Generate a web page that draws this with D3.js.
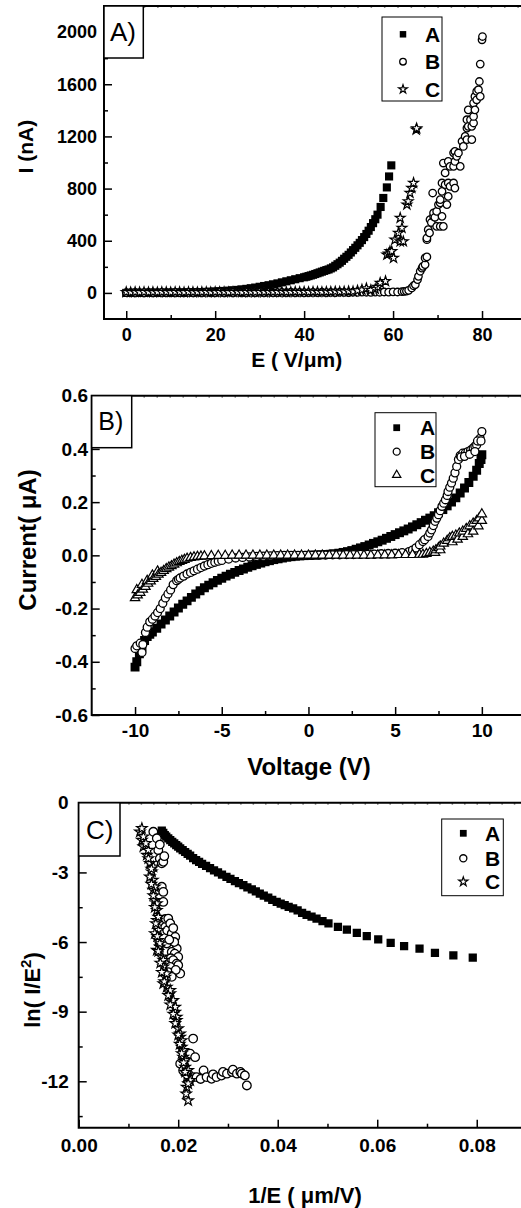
<!DOCTYPE html>
<html>
<head>
<meta charset="utf-8">
<script src="https://cdn.jsdelivr.net/npm/d3@7"></script>
<style>
body { margin: 0; background: #fff; }
svg { display: block; }
text { font-family: "Liberation Sans", Arial, sans-serif; }
</style>
</head>
<body>
<div id="chart"></div>
<script>
// Panel A: field emission current I (nA) vs E (V/um)
const emitA = [[0,0],[1,0],[2,0],[3,0],[4,0],[5,1],[6,1],[7,1],[8,1],[9,2],[10,2],[11,2],[12,3],[13,3],[14,4],[15,5],[16,5],[17,6],[18,8],[19,9],[20,11],[21,13],[22,15],[23,17],[24,20],[25,23],[26,27],[27,31],[28,36],[29,41],[30,47],[31,53],[32,59],[33,66],[34,73],[35,81],[36,89],[37,97],[38,105],[39,113],[40,120],[40.5,124],[41,129],[41.5,134],[42,139],[42.5,145],[43,151],[43.5,157],[44,163],[44.5,169],[45,175],[45.5,180],[46,188],[46.5,196],[47,208],[47.5,220],[48,232],[48.5,246],[49,262],[49.5,277],[50,292],[50.5,310],[51,328],[51.5,346],[52,365],[52.5,384],[53,405],[53.5,428],[54,452],[54.5,477],[55,505],[55.5,535],[56,565],[56.5,600],[57.2,659],[57.8,728],[58.6,809],[59.1,893],[59.6,978]];
const emitB = [[0,3],[1,2],[2,4],[3,3],[4,2],[5,4],[6,3],[7,2],[8,4],[9,3],[10,2],[11,4],[12,3],[13,2],[14,4],[15,3],[16,5],[17,3],[18,4],[19,2],[20,3],[21,4],[22,3],[23,5],[24,3],[25,4],[26,2],[27,3],[28,4],[29,3],[30,5],[31,3],[32,4],[33,2],[34,3],[35,4],[36,3],[37,5],[38,3],[39,4],[40,2],[41,3],[42,4],[43,3],[44,5],[45,3],[46,4],[47,3],[48,5],[49,4],[50,3],[51,5],[52,4],[53,6],[54,5],[55,4],[56,6],[57,5],[58,7],[59,6],[60,8],[61,7],[62,10],[62.5,12],[63,14],[63.5,20],[64.2,38],[64.6,55],[65,64],[65.5,102],[65.7,127],[66.1,166],[66.5,190],[66.7,204],[67.2,217],[67.2,268],[67.6,276],[67.6,408],[67.6,421],[67.9,485],[68.2,460],[68.3,562],[68.6,540],[68.9,766],[69.1,587],[69.1,613],[69.4,580],[69.8,510],[69.8,625],[70.2,677],[70.6,510],[70.6,690],[70.6,715],[71,587],[71,779],[71,843],[71.3,510],[71.3,996],[71.7,830],[71.7,920],[72.1,677],[72.4,740],[72.4,843],[72.4,1008],[72.8,817],[72.8,970],[73.6,843],[73.6,970],[73.6,1074],[73.9,804],[73.9,1008],[73.9,1085],[74.3,1047],[74.7,1073],[75.1,970],[75.5,1162],[75.8,1123],[76.2,1200],[76.6,1175],[76.6,1264],[76.6,1328],[76.9,1277],[76.9,1404],[77.4,1328],[77.7,1175],[77.7,1277],[78.1,1303],[78.1,1353],[78.1,1456],[78.4,1404],[78.4,1507],[78.8,1481],[78.8,1545],[79.2,1558],[79.4,1621],[79.6,1507],[79.6,1755],[80,1941],[80.1,1966]];
const emitC = [[0,6],[1,5],[2,6],[3,5],[4,7],[5,5],[6,6],[7,5],[8,7],[9,6],[10,5],[11,7],[12,6],[13,5],[14,7],[15,6],[16,5],[17,6],[18,7],[19,5],[20,6],[21,7],[22,6],[23,5],[24,7],[25,6],[26,5],[27,7],[28,6],[29,5],[30,7],[31,6],[32,8],[33,6],[34,7],[35,8],[36,6],[37,7],[38,8],[39,7],[40,8],[41,7],[42,9],[43,8],[44,7],[45,9],[46,8],[47,10],[48,9],[49,10],[50,12],[51,11],[52,18],[53,25],[54,35],[55,22],[56,30],[56.5,45],[57.1,77],[58.3,90],[58.6,293],[59.0,300],[59.3,319],[59.7,319],[60.1,268],[60.4,408],[61.2,460],[61.6,395],[62.3,395],[62,498],[61.6,575],[63.1,677],[63.4,702],[63.8,766],[64.2,804],[64.6,843],[65.2,1251],[65.3,1262]];

// Panel B: I-V curves, current (uA) vs voltage (V)
const ivA = [[-10.0,-0.42],[-9.9,-0.40],[-9.75,-0.37],[-9.6,-0.345],[-9.45,-0.32],[-9.3,-0.305],[-9.15,-0.297],[-9.0,-0.288],[-8.75,-0.274],[-8.5,-0.258],[-8.25,-0.243],[-8.0,-0.228],[-7.75,-0.213],[-7.5,-0.198],[-7.25,-0.184],[-7.0,-0.171],[-6.75,-0.158],[-6.5,-0.145],[-6.25,-0.133],[-6.0,-0.122],[-5.75,-0.112],[-5.5,-0.103],[-5.25,-0.094],[-5.0,-0.086],[-4.75,-0.078],[-4.5,-0.071],[-4.25,-0.064],[-4.0,-0.057],[-3.75,-0.051],[-3.5,-0.045],[-3.25,-0.039],[-3.0,-0.034],[-2.75,-0.029],[-2.5,-0.024],[-2.25,-0.02],[-2.0,-0.016],[-1.75,-0.013],[-1.5,-0.01],[-1.25,-0.007],[-1.0,-0.005],[-0.75,-0.003],[-0.5,-0.002],[-0.25,-0.001],[0,0],[0.25,0.001],[0.5,0.001],[0.75,0.002],[1.0,0.003],[1.25,0.004],[1.5,0.006],[1.75,0.008],[2.0,0.011],[2.25,0.014],[2.5,0.018],[2.75,0.023],[3.0,0.028],[3.25,0.033],[3.5,0.039],[3.75,0.045],[4.0,0.051],[4.25,0.057],[4.5,0.064],[4.75,0.071],[5.0,0.078],[5.25,0.085],[5.5,0.092],[5.75,0.099],[6.0,0.107],[6.25,0.115],[6.5,0.123],[6.75,0.132],[7.0,0.14],[7.25,0.149],[7.5,0.16],[7.75,0.172],[8.0,0.186],[8.25,0.2],[8.5,0.216],[8.75,0.234],[9.0,0.253],[9.25,0.274],[9.5,0.297],[9.7,0.32],[9.85,0.345],[9.95,0.36],[10.0,0.378]];
const ivB = [[-10.0,-0.35],[-9.9,-0.34],[-9.7,-0.33],[-9.6,-0.365],[-9.55,-0.335],[-9.4,-0.29],[-9.3,-0.27],[-9.15,-0.25],[-9.0,-0.24],[-8.85,-0.228],[-8.7,-0.215],[-8.55,-0.2],[-8.4,-0.18],[-8.25,-0.16],[-8.1,-0.145],[-7.95,-0.13],[-7.8,-0.11],[-7.6,-0.095],[-7.5,-0.09],[-7.4,-0.085],[-7.2,-0.078],[-7.0,-0.07],[-6.8,-0.064],[-6.6,-0.058],[-6.4,-0.052],[-6.2,-0.046],[-6.0,-0.04],[-5.8,-0.035],[-5.6,-0.03],[-5.4,-0.026],[-5.2,-0.022],[-5.0,-0.019],[-4.6,-0.014],[-4.2,-0.01],[-3.8,-0.008],[-3.4,-0.006],[-3.0,-0.004],[-2.6,-0.003],[-2.2,-0.002],[-1.8,-0.001],[-1.4,0],[-1.0,0],[-0.6,0],[-0.2,0],[0.2,0],[0.6,0.001],[1.0,0.001],[1.4,0.002],[1.8,0.002],[2.2,0.003],[2.6,0.003],[3.0,0.004],[3.4,0.004],[3.8,0.005],[4.2,0.006],[4.6,0.007],[5.0,0.008],[5.4,0.01],[5.8,0.014],[6.0,0.02],[6.2,0.028],[6.4,0.04],[6.6,0.052],[6.7,0.059],[6.9,0.071],[7.0,0.084],[7.1,0.096],[7.2,0.112],[7.3,0.128],[7.4,0.14],[7.5,0.153],[7.6,0.168],[7.7,0.184],[7.8,0.196],[7.9,0.209],[8.0,0.225],[8.05,0.24],[8.15,0.256],[8.25,0.272],[8.35,0.29],[8.45,0.31],[8.55,0.334],[8.65,0.36],[8.75,0.375],[8.9,0.384],[9.05,0.385],[9.2,0.39],[9.35,0.395],[9.5,0.403],[9.6,0.41],[9.7,0.415],[9.8,0.43],[9.9,0.44],[10.0,0.465],[8.8,0.37],[9.0,0.372],[9.3,0.38],[9.6,0.39],[9.75,0.43],[9.95,0.43]];
const ivC = [[-10.0,-0.16],[-9.9,-0.13],[-9.85,-0.15],[-9.7,-0.14],[-9.6,-0.11],[-9.55,-0.128],[-9.4,-0.118],[-9.3,-0.095],[-9.25,-0.106],[-9.1,-0.097],[-9.0,-0.075],[-8.95,-0.088],[-8.8,-0.08],[-8.7,-0.06],[-8.65,-0.072],[-8.5,-0.065],[-8.35,-0.058],[-8.2,-0.051],[-8.05,-0.045],[-7.9,-0.04],[-7.75,-0.034],[-7.6,-0.029],[-7.45,-0.024],[-7.3,-0.02],[-7.15,-0.016],[-7.0,-0.012],[-6.8,-0.009],[-6.6,-0.007],[-6.4,-0.005],[-6.2,-0.004],[-6.0,-0.003],[-5.6,-0.002],[-5.2,-0.001],[-4.8,-0.001],[-4.4,0],[-4.0,0],[-3.6,0],[-3.2,0],[-2.8,0],[-2.4,0],[-2.0,0],[-1.6,0],[-1.2,0],[-0.8,0],[-0.4,0],[0,0],[0.4,0],[0.8,0],[1.2,0],[1.6,0],[2.0,0],[2.4,0],[2.8,0],[3.2,0],[3.6,0],[4.0,0.001],[4.4,0.001],[4.8,0.001],[5.2,0.002],[5.6,0.002],[6.0,0.002],[6.4,0.003],[6.6,0.003],[6.8,0.006],[7.0,0.01],[7.2,0.015],[7.3,0.01],[7.35,0.02],[7.5,0.028],[7.6,0.02],[7.6,0.034],[7.8,0.045],[8.0,0.055],[8.15,0.065],[8.3,0.05],[8.3,0.07],[8.5,0.075],[8.6,0.06],[8.7,0.083],[8.9,0.07],[8.9,0.09],[9.1,0.1],[9.2,0.08],[9.3,0.11],[9.5,0.09],[9.5,0.12],[9.7,0.13],[9.8,0.11],[9.85,0.14],[10.0,0.13],[10.0,0.155]];

// Panel C: Fowler-Nordheim plot, ln(I/E^2) vs 1/E
const fnA = [[0.0167,-1.2],[0.0170,-1.3],[0.0173,-1.39],[0.0176,-1.46],[0.0180,-1.53],[0.0184,-1.61],[0.0188,-1.68],[0.0192,-1.75],[0.0196,-1.82],[0.0200,-1.89],[0.0204,-1.96],[0.0209,-2.04],[0.0214,-2.12],[0.0219,-2.2],[0.0224,-2.28],[0.0230,-2.38],[0.0236,-2.47],[0.0242,-2.55],[0.0248,-2.63],[0.0256,-2.72],[0.0264,-2.82],[0.0272,-2.91],[0.0280,-3.0],[0.0288,-3.1],[0.0297,-3.19],[0.0305,-3.28],[0.0314,-3.37],[0.0322,-3.46],[0.0331,-3.55],[0.0339,-3.64],[0.0348,-3.73],[0.0356,-3.82],[0.0364,-3.91],[0.0372,-4.0],[0.0381,-4.09],[0.0389,-4.18],[0.0398,-4.27],[0.0406,-4.34],[0.0414,-4.41],[0.0422,-4.48],[0.0431,-4.55],[0.0440,-4.64],[0.0449,-4.74],[0.0458,-4.83],[0.0468,-4.91],[0.0478,-4.99],[0.0490,-5.1],[0.0502,-5.2],[0.0521,-5.35],[0.0539,-5.46],[0.0559,-5.6],[0.0579,-5.75],[0.0602,-5.88],[0.0627,-6.04],[0.0654,-6.18],[0.0685,-6.28],[0.0716,-6.47],[0.0753,-6.57],[0.0792,-6.67]];
const fnB = [[0.0150,-1.25],[0.0157,-1.53],[0.0160,-2.04],[0.0163,-2.4],[0.0167,-2.61],[0.0170,-2.54],[0.0163,-1.8],[0.0172,-2.3],[0.0167,-3.62],[0.0170,-3.84],[0.0170,-4.27],[0.0174,-5.35],[0.0175,-5.0],[0.0178,-5.5],[0.0180,-4.99],[0.0184,-5.2],[0.0187,-5.63],[0.0190,-5.4],[0.0194,-5.78],[0.0177,-6.06],[0.0197,-6.28],[0.0187,-6.43],[0.0193,-6.5],[0.0200,-6.64],[0.0185,-6.7],[0.0190,-6.78],[0.0197,-6.93],[0.0200,-7.0],[0.0184,-7.07],[0.0180,-7.3],[0.0204,-7.36],[0.0192,-6.0],[0.0182,-5.9],[0.0195,-7.2],[0.0187,-7.5],[0.0204,-11.24],[0.0210,-11.53],[0.0220,-11.67],[0.0224,-10.81],[0.0230,-10.16],[0.0230,-11.82],[0.0234,-10.96],[0.0237,-11.82],[0.0245,-11.9],[0.0251,-11.53],[0.0257,-11.82],[0.0267,-11.89],[0.0270,-11.7],[0.0277,-11.82],[0.0287,-11.75],[0.0290,-11.6],[0.0298,-11.67],[0.0308,-11.6],[0.0310,-11.5],[0.0318,-11.67],[0.0325,-11.6],[0.0328,-11.67],[0.0334,-11.75],[0.0338,-12.18]];
const fnC = [[0.0123,-1.25],[0.0127,-1.61],[0.0130,-1.89],[0.0137,-2.25],[0.0143,-2.61],[0.0147,-2.97],[0.0149,-3.33],[0.0150,-3.76],[0.0153,-4.2],[0.0157,-4.63],[0.0157,-5.06],[0.0160,-5.49],[0.0160,-5.92],[0.0163,-6.21],[0.0167,-6.64],[0.0170,-7.07],[0.0174,-7.51],[0.0177,-7.94],[0.0184,-8.22],[0.0187,-8.58],[0.0194,-9.02],[0.0197,-9.37],[0.0200,-9.73],[0.0204,-10.09],[0.0207,-10.53],[0.0210,-10.96],[0.0214,-11.39],[0.0217,-11.82],[0.0217,-12.25],[0.0220,-12.83],[0.0130,-1.46],[0.0140,-2.04],[0.0150,-2.76],[0.0143,-3.19],[0.0153,-3.62],[0.0157,-4.34],[0.0160,-4.92],[0.0153,-5.63],[0.0163,-6.06],[0.0157,-6.35],[0.0170,-6.78],[0.0177,-7.36],[0.0170,-7.79],[0.0184,-8.08],[0.0190,-8.51],[0.0194,-8.8],[0.0197,-9.23],[0.0204,-9.95],[0.0207,-10.24],[0.0210,-10.67],[0.0214,-11.1],[0.0220,-11.53],[0.0224,-11.96],[0.0216,-12.54],[0.0127,-1.1],[0.0135,-1.75],[0.0140,-2.4],[0.0146,-2.85],[0.0146,-3.5],[0.0150,-4.0],[0.0153,-4.5],[0.0155,-5.2],[0.0158,-5.75],[0.0160,-6.4],[0.0164,-6.9],[0.0167,-7.3],[0.0172,-7.7],[0.0180,-8.3],[0.0184,-8.7],[0.0190,-9.1],[0.0194,-9.5],[0.0200,-10.0],[0.0203,-10.4],[0.0207,-10.8],[0.0211,-11.2],[0.0214,-11.6],[0.0220,-12.1]];

const seriesNames = ['A', 'B', 'C'];

const W = 521, H = 1208;
const fmt = d3.formatLocale({decimal: '.', thousands: ',', grouping: [3], currency: ['', ''], minus: '-'});

const svg = d3.select('#chart')
    .append('svg')
    .attr('width', W)
    .attr('height', H);

function drawPanel(cfg) {
    const g = svg.append('g');
    const x = d3.scaleLinear().domain(cfg.xDomain).range([cfg.left, cfg.right]);
    const y = d3.scaleLinear().domain(cfg.yDomain).range([cfg.bottom, cfg.top]);

    // clip markers to the plot frame
    svg.append('clipPath').attr('id', 'clip' + cfg.id)
        .append('rect')
        .attr('x', cfg.left).attr('y', cfg.top)
        .attr('width', cfg.right - cfg.left).attr('height', cfg.bottom - cfg.top);

    const plot = g.append('g').attr('clip-path', 'url(#clip' + cfg.id + ')');
    cfg.series.forEach(function(s) {
        plot.append('g').selectAll('path')
            .data(s.data)
            .enter()
            .append('path')
            .attr('transform', function(d) { return 'translate(' + x(d[0]) + ',' + y(d[1]) + ')'; })
            .attr('d', d3.symbol().type(s.type).size(s.size))
            .attr('fill', s.fill)
            .attr('stroke', '#000')
            .attr('stroke-width', s.sw);
    });

    // minor ticks (inward)
    g.append('g')
        .attr('transform', 'translate(0,' + cfg.bottom + ')')
        .call(d3.axisBottom(x).tickValues(cfg.xMinor).tickSizeInner(-4).tickSizeOuter(0).tickFormat(''))
        .call(function(a) { a.select('.domain').remove(); });
    g.append('g')
        .attr('transform', 'translate(' + cfg.left + ',0)')
        .call(d3.axisLeft(y).tickValues(cfg.yMinor).tickSizeInner(-4).tickSizeOuter(0).tickFormat(''))
        .call(function(a) { a.select('.domain').remove(); });

    // faint ticks along the top edge
    g.append('g')
        .attr('transform', 'translate(0,' + cfg.top + ')')
        .call(d3.axisTop(x).tickValues(d3.range(cfg.xDomain[0], cfg.xDomain[1], cfg.topStep)).tickSizeInner(-2).tickSizeOuter(0).tickFormat(''))
        .call(function(a) {
            a.select('.domain').remove();
            a.selectAll('line').attr('stroke', '#888');
        });

    // major ticks and labels
    const xAx = g.append('g')
        .attr('transform', 'translate(0,' + cfg.bottom + ')')
        .call(d3.axisBottom(x).tickValues(cfg.xMajor).tickSizeInner(-8).tickSizeOuter(0)
            .tickPadding(cfg.xPad).tickFormat(fmt.format(cfg.xFmt)));
    const yAx = g.append('g')
        .attr('transform', 'translate(' + cfg.left + ',0)')
        .call(d3.axisLeft(y).tickValues(cfg.yMajor).tickSizeInner(-8).tickSizeOuter(0)
            .tickPadding(cfg.yPad).tickFormat(fmt.format(cfg.yFmt)));
    [xAx, yAx].forEach(function(a) {
        a.select('.domain').remove();
        a.attr('font-family', null).attr('font-size', null);
        a.selectAll('line').attr('stroke', '#000').attr('stroke-width', 1.5);
        a.selectAll('text')
            .attr('font-size', cfg.tickSize + 'px')
            .attr('font-weight', 'bold')
            .attr('fill', '#000');
    });
    g.selectAll('.tick line').attr('stroke-width', 1.5);

    // frame (right side lies outside the picture)
    g.append('path')
        .attr('d', 'M' + cfg.right + ',' + cfg.top + 'H' + cfg.left + 'V' + cfg.bottom + 'H' + cfg.right)
        .attr('fill', 'none')
        .attr('stroke', '#000')
        .attr('stroke-width', 2);

    // panel letter box
    g.append('rect')
        .attr('x', cfg.left).attr('y', cfg.top)
        .attr('width', cfg.tag.w).attr('height', cfg.tag.h)
        .attr('fill', '#fff').attr('stroke', '#000').attr('stroke-width', 1.5);
    g.append('text')
        .attr('x', cfg.tag.tx).attr('y', cfg.tag.ty)
        .attr('font-size', cfg.tag.fs + 'px')
        .attr('fill', '#000')
        .text(cfg.tag.label);

    // legend
    const lg = cfg.legend;
    g.append('rect')
        .attr('x', lg.x).attr('y', lg.y).attr('width', lg.w).attr('height', lg.h)
        .attr('fill', '#fff').attr('stroke', '#000').attr('stroke-width', 1);
    cfg.series.forEach(function(s, i) {
        g.append('path')
            .attr('transform', 'translate(' + lg.mx + ',' + lg.rows[i] + ')')
            .attr('d', d3.symbol().type(s.type).size(s.lsize))
            .attr('fill', s.fill)
            .attr('stroke', '#000')
            .attr('stroke-width', s.sw);
        g.append('text')
            .attr('x', lg.tx).attr('y', lg.rows[i])
            .attr('dominant-baseline', 'central')
            .attr('font-size', '21px')
            .attr('font-weight', 'bold')
            .attr('fill', '#000')
            .text(seriesNames[i]);
    });

    // axis titles
    const yt = g.append('text')
        .attr('transform', 'translate(' + cfg.yTitle.x + ',' + cfg.yTitle.y + ') rotate(-90)')
        .attr('text-anchor', 'middle')
        .attr('dominant-baseline', 'central')
        .attr('font-size', cfg.titleSize + 'px')
        .attr('font-weight', 'bold')
        .attr('fill', '#000');
    cfg.yTitle.parts.forEach(function(p) {
        const t = yt.append('tspan').text(p.t);
        if (p.dy) t.attr('dy', p.dy);
        if (p.fs) t.attr('font-size', p.fs + 'px');
    });
    g.append('text')
        .attr('x', cfg.xTitle.x).attr('y', cfg.xTitle.y)
        .attr('text-anchor', 'middle')
        .attr('dominant-baseline', 'central')
        .attr('font-size', cfg.titleSize + 'px')
        .attr('font-weight', 'bold')
        .attr('fill', '#000')
        .text(cfg.xTitle.text);
}

// A) emission current
drawPanel({
    id: 'A', left: 104, right: 526.5, top: 6, bottom: 319,
    xDomain: [-5, 90], yDomain: [-200, 2200],
    xMajor: [0, 20, 40, 60, 80], xMinor: [10, 30, 50, 70],
    yMajor: [0, 400, 800, 1200, 1600, 2000], yMinor: [200, 600, 1000, 1400, 1800],
    xFmt: 'd', yFmt: 'd', xPad: 9.5, yPad: 7, topStep: 3, tickSize: 18,
    series: [
        {data: emitA, type: d3.symbolSquare, size: 66, lsize: 42, fill: '#000', sw: 0},
        {data: emitB, type: d3.symbolCircle, size: 44, lsize: 34, fill: '#fff', sw: 1.3},
        {data: emitC, type: d3.symbolStar, size: 30, lsize: 24, fill: '#fff', sw: 1.2}
    ],
    tag: {w: 39.3, h: 52, tx: 110, ty: 40.7, fs: 26, label: 'A)'},
    legend: {x: 382, y: 17, w: 60, h: 84, mx: 403, tx: 425, rows: [34.3, 61.7, 89.3]},
    titleSize: 21,
    yTitle: {x: 25, y: 146.7, parts: [{t: 'I (nA)'}]},
    xTitle: {x: 296.7, y: 359, text: 'E ( V/\u03bcm)'}
});

// B) I-V characteristics
drawPanel({
    id: 'B', left: 91.7, right: 525.2, top: 395.7, bottom: 715,
    xDomain: [-12.5, 12.5], yDomain: [-0.6, 0.6],
    xMajor: [-10, -5, 0, 5, 10], xMinor: [-7.5, -2.5, 2.5, 7.5],
    yMajor: [-0.6, -0.4, -0.2, 0, 0.2, 0.4, 0.6], yMinor: [-0.5, -0.3, -0.1, 0.1, 0.3, 0.5],
    xFmt: 'd', yFmt: '.1f', xPad: 8.5, yPad: 3.7, topStep: 0.75, tickSize: 19,
    series: [
        {data: ivA, type: d3.symbolSquare, size: 80, lsize: 46, fill: '#000', sw: 0},
        {data: ivB, type: d3.symbolCircle, size: 50, lsize: 38, fill: '#fff', sw: 1.3},
        {data: ivC, type: d3.symbolTriangle, size: 38, lsize: 30, fill: '#fff', sw: 1.2}
    ],
    tag: {w: 40, h: 52, tx: 98.3, ty: 430, fs: 25, label: 'B)'},
    legend: {x: 375, y: 412.7, w: 61, h: 74, mx: 396.7, tx: 420, rows: [427.7, 451.7, 475]},
    titleSize: 24,
    yTitle: {x: 26.7, y: 540, parts: [{t: 'Current( \u03bcA)'}]},
    xTitle: {x: 309, y: 766.7, text: 'Voltage (V)'}
});

// C) Fowler-Nordheim plot
drawPanel({
    id: 'C', left: 78.7, right: 526.5, top: 802.8, bottom: 1127.7,
    xDomain: [0, 0.09], yDomain: [-14, 0],
    xMajor: [0, 0.02, 0.04, 0.06, 0.08], xMinor: [0.01, 0.03, 0.05, 0.07],
    yMajor: [-12, -9, -6, -3, 0], yMinor: [-13.5, -10.5, -7.5, -4.5, -1.5],
    xFmt: '.2f', yFmt: 'd', xPad: 10.5, yPad: 10, topStep: 0.0025, tickSize: 19,
    series: [
        {data: fnA, type: d3.symbolSquare, size: 68, lsize: 46, fill: '#000', sw: 0},
        {data: fnB, type: d3.symbolCircle, size: 58, lsize: 40, fill: '#fff', sw: 1.3},
        {data: fnC, type: d3.symbolStar, size: 34, lsize: 26, fill: '#fff', sw: 1.2}
    ],
    tag: {w: 41.3, h: 53.2, tx: 86, ty: 839.3, fs: 26, label: 'C)'},
    legend: {x: 441.7, y: 819, w: 61.6, h: 76.7, mx: 463.3, tx: 485, rows: [833.3, 858.3, 881.7]},
    titleSize: 22,
    yTitle: {x: 31.7, y: 990, parts: [{t: 'ln( I/E'}, {t: '2', dy: '-0.45em', fs: 15}, {t: ')', dy: '0.3em'}]},
    xTitle: {x: 305, y: 1195, text: '1/E ( \u03bcm/V)'}
});
</script>
</body>
</html>
